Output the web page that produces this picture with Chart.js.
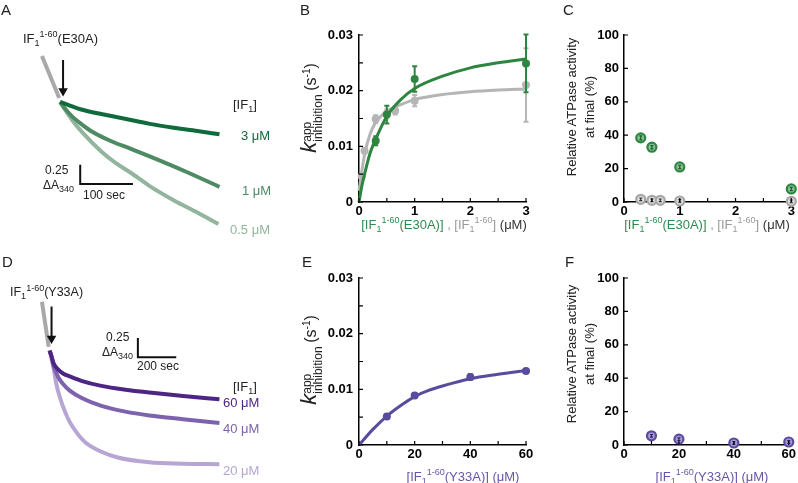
<!DOCTYPE html>
<html lang="en">
<head>
<meta charset="UTF-8">
<title>IF1 mutant inhibition</title>
<style>
  body { margin: 0; background: #fff; font-family: Arial, "Liberation Sans", Helvetica, sans-serif; }
  #fig { position: relative; width: 798px; height: 483px; overflow: hidden; }
  canvas { position: absolute; }
  .lbl { position: absolute; white-space: nowrap; line-height: 1; color: #222; font-size: 13px; }
  .lbl sub, .lbl sup { font-size: 9px; line-height: 0; }
  .ytitle { position: absolute; white-space: nowrap; line-height: 18px; color: #222; font-size: 13px;
            text-align: center; transform: translate(-50%, -50%) rotate(-90deg); }
  .ytitle sup { font-size: 10px; line-height: 0; }
  .ss { display: inline-block; vertical-align: middle; font-size: 12px; line-height: 11px; text-align: left; }
</style>
</head>
<body>
<div id="fig">
  <canvas id="chA" width="270" height="240" style="left:0;top:0"></canvas>
  <canvas id="chB" width="270" height="240" style="left:270px;top:0"></canvas>
  <canvas id="chC" width="268" height="240" style="left:530px;top:0"></canvas>
  <canvas id="chD" width="270" height="243" style="left:0;top:240px"></canvas>
  <canvas id="chE" width="270" height="243" style="left:270px;top:240px"></canvas>
  <canvas id="chF" width="268" height="243" style="left:530px;top:240px"></canvas>
</div>

<script src="https://cdn.jsdelivr.net/npm/chart.js"></script>
<script>
// ---- data ----

// A: traces, time (s) after IF1(E30A) addition vs change in A340
const aPreT = [-34.5, -1.8];
const aPreA = [0.6, 0.05];
const a3T = [0, 15, 40, 80, 125, 170, 215, 260, 302];
const a3A = [0, -0.038, -0.10, -0.163, -0.225, -0.288, -0.338, -0.381, -0.425];
const a1T = [0, 9, 24, 42, 60, 96, 133, 187, 242, 302];
const a1A = [0, -0.088, -0.2, -0.3, -0.388, -0.513, -0.613, -0.763, -0.925, -1.113];
const a05T = [0, 9, 24, 42, 78, 105, 133, 169, 215, 260, 300];
const a05A = [0, -0.1, -0.25, -0.4, -0.65, -0.8, -0.925, -1.1, -1.288, -1.45, -1.6];

// D: traces for IF1(Y33A)
const dPreT = [-40, -5];
const dPreA = [0.6375, 0.05];
const d60T = [0, 10, 20, 45, 70, 105, 170, 270, 395, 520, 695, 885];
const d60A = [0, -0.075, -0.163, -0.25, -0.3, -0.338, -0.4, -0.463, -0.513, -0.55, -0.594, -0.638];
const d40T = [0, 10, 20, 45, 70, 105, 170, 270, 395, 520, 695, 885];
const d40A = [0, -0.088, -0.2, -0.35, -0.438, -0.525, -0.625, -0.725, -0.8, -0.85, -0.9, -0.95];
const d20T = [0, 10, 20, 35, 55, 80, 105, 145, 185, 270, 355, 520, 695, 885];
const d20A = [0, -0.1, -0.225, -0.438, -0.625, -0.8, -0.938, -1.088, -1.2, -1.325, -1.4, -1.463, -1.481, -1.488];

// B: k_app vs [IF1]
const bE30X = [0.3, 0.5, 1, 3];
const bE30Y = [0.011, 0.0157, 0.0221, 0.0249];
const bE30Err = [0.0008, 0.0016, 0.0023, 0.0052];
const bWtX = [0.05, 0.1, 0.3, 0.5, 0.65, 1, 3];
const bWtY = [0.0046, 0.0092, 0.0149, 0.0158, 0.0164, 0.0182, 0.021];
const bWtErr = [0.0004, 0.0005, 0.0007, 0.0008, 0.0007, 0.001, 0.0066];
const bE30FitX = [0, 0.05, 0.1, 0.2, 0.3, 0.5, 0.75, 1, 1.5, 2, 2.5, 3];
const bE30FitY = [0, 0.0028, 0.005, 0.0088, 0.0113, 0.0154, 0.0184, 0.0204, 0.0226, 0.0241, 0.025, 0.0257];
const bWtFitX = [0, 0.05, 0.1, 0.2, 0.3, 0.5, 0.75, 1, 1.5, 2, 2.5, 3];
const bWtFitY = [0.002, 0.0055, 0.0085, 0.0122, 0.0143, 0.0163, 0.0175, 0.0184, 0.0193, 0.0198, 0.0201, 0.0203];

// C: residual activity (%)
const cE30X = [0.3, 0.5, 1, 3];
const cE30Y = [38.4, 32.8, 21, 7.8];
const cWtX = [0.3, 0.5, 0.65, 1, 3];
const cWtY = [1.6, 1, 1, 0.6, 0.4];

// E: k_app vs [IF1(Y33A)]
const eX = [10, 20, 40, 60];
const eY = [0.0051, 0.0089, 0.0122, 0.0133];
const eErr = [0.0004, 0.0004, 0.0005, 0.0003];
const eFitX = [0, 5, 10, 15, 20, 25, 30, 40, 50, 60];
const eFitY = [0, 0.0028, 0.0052, 0.0071, 0.0087, 0.0098, 0.0106, 0.0119, 0.0127, 0.0134];

// F: residual activity (%)
const fX = [10, 20, 40, 60];
const fY = [5.5, 3.5, 1.2, 1.8];

// ---- helpers ----
Chart.defaults.font.family = 'Arial, "Liberation Sans", Helvetica, sans-serif';

const xy = (xs, ys) => xs.map((x, i) => ({ x, y: ys[i] }));

function curve(data, color, width) {
  return { data, showLine: true, borderColor: color, borderWidth: width, pointRadius: 0,
           cubicInterpolationMode: 'monotone', clip: false };
}
function segs(data, color, width) {
  return { data, showLine: true, borderColor: color, borderWidth: width, pointRadius: 0,
           tension: 0, borderJoinStyle: 'miter', clip: false };
}
function head(pt) {
  return { data: [pt], pointStyle: 'triangle', pointRadius: 5.5, pointRotation: 180,
           backgroundColor: '#111', borderWidth: 0, clip: false };
}

const errorBars = {
  id: 'errorBars',
  afterDatasetDraw(chart, args) {
    const ds = chart.data.datasets[args.index];
    if (!ds.err) return;
    const xs = chart.scales.x, ys = chart.scales.y, ctx = chart.ctx;
    ctx.save();
    ctx.strokeStyle = ds.errColor || ds.borderColor;
    ctx.lineWidth = ds.errWidth || 2;
    const cap = ds.cap == null ? 2.5 : ds.cap;
    ctx.beginPath();
    ds.data.forEach((p, j) => {
      const px = xs.getPixelForValue(p.x);
      const t = ys.getPixelForValue(p.y + ds.err[j]);
      const b = ys.getPixelForValue(p.y - ds.err[j]);
      ctx.moveTo(px, t); ctx.lineTo(px, b);
      if (cap) {
        ctx.moveTo(px - cap, t); ctx.lineTo(px + cap, t);
        ctx.moveTo(px - cap, b); ctx.lineTo(px + cap, b);
      }
    });
    ctx.stroke();
    ctx.restore();
  }
};

const inTicks = {
  id: 'inTicks',
  afterDraw(chart) {
    const { ctx, chartArea: a } = chart;
    const xs = chart.scales.x, ys = chart.scales.y;
    ctx.save();
    ctx.strokeStyle = '#000';
    ctx.lineWidth = 1.2;
    ctx.beginPath();
    xs.ticks.forEach(t => { const p = xs.getPixelForValue(t.value); ctx.moveTo(p, a.bottom); ctx.lineTo(p, a.bottom - 4); });
    ys.ticks.forEach(t => { const p = ys.getPixelForValue(t.value); ctx.moveTo(a.left, p); ctx.lineTo(a.left + 4, p); });
    ctx.stroke();
    ctx.restore();
  }
};

function traceChart(id, xr, yr, datasets) {
  return new Chart(document.getElementById(id), {
    type: 'scatter',
    data: { datasets },
    options: {
      responsive: false, animation: false,
      layout: { padding: 0 },
      scales: {
        x: { type: 'linear', display: false, min: xr[0], max: xr[1] },
        y: { type: 'linear', display: false, min: yr[0], max: yr[1] }
      },
      plugins: { legend: { display: false }, tooltip: { enabled: false } }
    }
  });
}

function axis(o, fit) {
  return {
    type: 'linear', min: o.min, max: o.max, afterFit: fit,
    grid: { display: false, drawTicks: false },
    border: { display: true, color: '#000', width: 1.5 },
    ticks: { stepSize: o.step, autoSkip: false, maxRotation: 0, padding: o.pad, color: '#000',
             font: { size: 13, weight: 'bold' }, callback: o.label }
  };
}

function axisChart(id, c) {
  return new Chart(document.getElementById(id), {
    type: 'scatter',
    data: { datasets: c.datasets },
    options: {
      responsive: false, animation: false,
      layout: { padding: c.pad },
      scales: {
        x: axis(c.x, s => { s.height = c.xh; }),
        y: axis(c.y, s => { s.width = c.yw; })
      },
      plugins: { legend: { display: false }, tooltip: { enabled: false } }
    },
    plugins: [errorBars, inTicks]
  });
}

const intLabel = v => Number.isInteger(v) ? String(v) : '';
const by20 = v => (Math.round(v) % 20 === 0 ? String(Math.round(v)) : '');
const kLabel = v => { const r = Math.round(v * 1000); return r % 10 === 0 ? String(r / 1000) : ''; };

// ---- A ----
const gA1 = '#0f6b3b', gA2 = '#4e8a62', gA3 = '#93b59e';
traceChart('chA', [-103.6, 387.3], [-1.7375, 1.2625], [
  segs([{ x: 38, y: -0.825 }, { x: 38, y: -1.075 }, { x: 138, y: -1.075 }], '#111', 2),
  head({ x: 5.5, y: 0.144 }),
  segs([{ x: 5.5, y: 0.55 }, { x: 5.5, y: 0.17 }], '#111', 2),
  curve(xy(a3T, a3A), gA1, 4),
  curve(xy(a1T, a1A), gA2, 4),
  curve(xy(a05T, a05A), gA3, 4),
  segs(xy(aPreT, aPreA), '#a9a9a9', 4)
]);

// ---- D ----
const pD1 = '#4d2585', pD2 = '#7d62ad', pD3 = '#b7a5d3';
traceChart('chD', [-230, 1120], [-1.6625, 1.375], [
  segs([{ x: 460, y: 0.1625 }, { x: 460, y: -0.0875 }, { x: 660, y: -0.0875 }], '#111', 2),
  head({ x: 10, y: 0.156 }),
  segs([{ x: 10, y: 0.575 }, { x: 10, y: 0.18 }], '#111', 2),
  curve(xy(d60T, d60A), pD1, 4),
  curve(xy(d40T, d40A), pD2, 4),
  curve(xy(d20T, d20A), pD3, 4),
  segs(xy(dPreT, dPreA), '#a9a9a9', 4)
]);

// ---- B ----
const green = '#2e8540', gray = '#b5b5b5';
axisChart('chB', {
  pad: { left: 0, right: 14, top: 35, bottom: 0 }, xh: 38, yw: 89,
  x: { min: 0, max: 3, step: 0.5, pad: 2, label: intLabel },
  y: { min: 0, max: 0.03, step: 0.005, pad: 6, label: kLabel },
  datasets: [
    { data: xy(bE30X, bE30Y), err: bE30Err, pointRadius: 4, backgroundColor: green, borderColor: green, borderWidth: 0, clip: false },
    curve(xy(bE30FitX, bE30FitY), green, 3),
    { data: xy(bWtX, bWtY), err: bWtErr, pointRadius: 4, backgroundColor: gray, borderColor: gray, borderWidth: 0, clip: false },
    curve(xy(bWtFitX, bWtFitY), gray, 3)
  ]
});

// ---- C ----
axisChart('chC', {
  pad: { left: 0, right: 6, top: 35, bottom: 0 }, xh: 38, yw: 94,
  x: { min: 0, max: 3, step: 0.5, pad: 2, label: intLabel },
  y: { min: 0, max: 100, step: 20, pad: 5, label: v => String(v) },
  datasets: [
    { data: xy(cE30X, cE30Y), err: [1.2, 1, 1, 1], errColor: '#1d5a2c', errWidth: 1.2, cap: 1.5,
      pointRadius: 4.5, backgroundColor: '#86c194', borderColor: green, borderWidth: 2.2, clip: false },
    { data: xy(cWtX, cWtY), err: [0.8, 0.8, 0.8, 0.8, 0.8], errColor: '#333', errWidth: 1.2, cap: 1.5,
      pointRadius: 4.5, backgroundColor: '#dedede', borderColor: '#a6a6a6', borderWidth: 2.2, clip: false }
  ]
});

// ---- E ----
const purple = '#5a4b9c';
axisChart('chE', {
  pad: { left: 0, right: 14, top: 38, bottom: 0 }, xh: 38, yw: 89,
  x: { min: 0, max: 60, step: 10, pad: 2, label: by20 },
  y: { min: 0, max: 0.03, step: 0.005, pad: 6, label: kLabel },
  datasets: [
    { data: xy(eX, eY), err: eErr, pointRadius: 4, backgroundColor: purple, borderColor: purple, borderWidth: 0, clip: false },
    curve(xy(eFitX, eFitY), purple, 3)
  ]
});

// ---- F ----
axisChart('chF', {
  pad: { left: 0, right: 6, top: 38, bottom: 0 }, xh: 38, yw: 94,
  x: { min: 0, max: 60, step: 10, pad: 2, label: by20 },
  y: { min: 0, max: 100, step: 20, pad: 5, label: v => String(v) },
  datasets: [
    { data: xy(fX, fY), err: [0.8, 0.8, 0.8, 0.8], errColor: '#2d2060', errWidth: 1.2, cap: 1.5,
      pointRadius: 4.5, backgroundColor: '#a79bd2', borderColor: '#5b4a9f', borderWidth: 2.2, clip: false }
  ]
});

// ---- text ----
const fig = document.getElementById('fig');
function addLabel(x, y, html, opt) {
  opt = opt || {};
  const d = document.createElement('div');
  d.className = 'lbl';
  d.innerHTML = html;
  d.style.left = x + 'px';
  d.style.top = y + 'px';
  d.style.transform = opt.center ? 'translate(-50%,-50%)' : 'translateY(-50%)';
  if (opt.color) d.style.color = opt.color;
  if (opt.size) d.style.fontSize = opt.size + 'px';
  fig.appendChild(d);
}
function addYTitle(x, y, html) {
  const d = document.createElement('div');
  d.className = 'ytitle';
  d.innerHTML = html;
  d.style.left = x + 'px';
  d.style.top = y + 'px';
  fig.appendChild(d);
}

const IF = 'IF<sub>1</sub><sup>1-60</sup>';
// panel letters
[['A', 1, 9], ['B', 300, 9], ['C', 563, 9], ['D', 2, 261], ['E', 302, 261], ['F', 565, 261]]
  .forEach(p => addLabel(p[1], p[2], p[0], { size: 15 }));

// A
addLabel(23, 38, IF + '(E30A)');
addLabel(233, 104, '[IF<sub>1</sub>]');
addLabel(241, 135, '3 μM', { color: gA1 });
addLabel(242, 190, '1 μM', { color: gA2 });
addLabel(230, 229, '0.5 μM', { color: gA3 });
addLabel(45, 170, '0.25', { size: 12 });
addLabel(43, 185, 'ΔA<sub>340</sub>', { size: 12 });
addLabel(83, 195, '100 sec', { size: 12 });

// D
addLabel(10, 292, IF + '(Y33A)', { size: 12.5 });
addLabel(106, 337, '0.25', { size: 12 });
addLabel(102, 352, 'ΔA<sub>340</sub>', { size: 12 });
addLabel(137, 366, '200 sec', { size: 12 });
addLabel(233, 386, '[IF<sub>1</sub>]');
addLabel(223, 402, '60 μM', { color: pD1 });
addLabel(223, 428, '40 μM', { color: pD2 });
addLabel(223, 470, '20 μM', { color: pD3 });

// axis titles
const xTitleE30 = '<span style="color:#2e8b4f">[' + IF + '(E30A)]</span> <span style="color:#9a9a9a">, [' + IF + ']</span> <span style="color:#333">(μM)</span>';
addLabel(444, 224, xTitleE30, { center: true });
addLabel(707, 224, xTitleE30, { center: true });
addLabel(463, 476, '[' + IF + '(Y33A)] (μM)', { center: true, color: '#6a55a8' });
addLabel(712, 476, '[' + IF + '(Y33A)] (μM)', { center: true, color: '#6a55a8' });

const kTitle = '<i style="font-size:22px">k</i><span class="ss">app<br>inhibition</span> <span style="font-size:16px">(s<sup>-1</sup>)</span>';
addYTitle(312, 108, kTitle);
addYTitle(312, 360, kTitle);
addYTitle(581, 107, 'Relative ATPase activity<br>at final (%)');
addYTitle(581, 354, 'Relative ATPase activity<br>at final (%)');
</script>
</body>
</html>
